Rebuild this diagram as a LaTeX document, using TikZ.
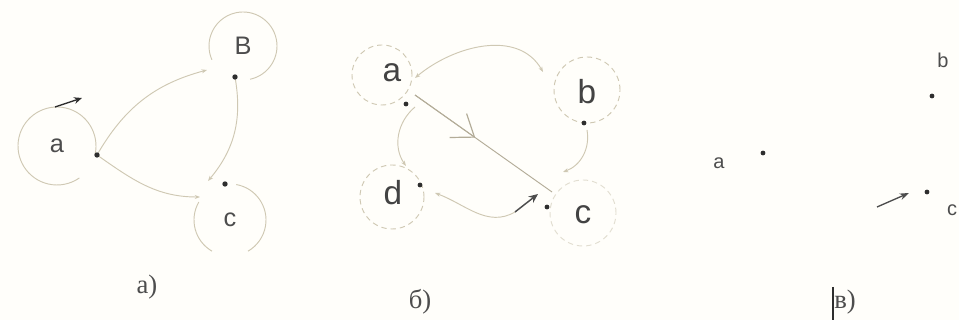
\documentclass[tikz,border=0pt]{standalone}
\usepackage{fontspec}
\setmainfont{Liberation Serif}
\newfontfamily\lblfont{Liberation Sans}
\usetikzlibrary{arrows.meta,calc}
\definecolor{Faded}{HTML}{CFC8B3}
\definecolor{FadedDark}{HTML}{B3AC98}
\definecolor{Ink}{HTML}{2E2E2E}
\definecolor{Paper}{HTML}{FFFEFA}

\begin{document}
\begin{tikzpicture}[x=0.75pt,y=0.75pt,line width=0.7pt,
  vlabel/.style={font=\lblfont\fontsize{19}{19}\selectfont,text=Ink!85,inner sep=0pt},
  biglabel/.style={font=\lblfont\fontsize{25}{25}\selectfont,text=Ink!90,inner sep=0pt},
  caption/.style={font=\fontsize{20}{20}\selectfont,text=Ink!85,inner sep=0pt},
  vdot/.style={fill=Ink},
  faint/.style={draw=Faded},
  tick/.style={-{Stealth[length=4pt,width=3pt]},draw=Faded},
  ring/.style={draw=Faded,dashed,dash pattern=on 4pt off 3pt,circle,inner sep=0pt}]
  \fill[Paper] (0,0) rectangle (959,320);
  \useasboundingbox (0,0) rectangle (959,320);

  % a)
  \node[vlabel] (aA) at (57,174) {a};
  \node[vlabel] (aB) at (243,274) {B};
  \node[vlabel] (aC) at (230,100) {c};
  \coordinate (aAdot) at (97,165);
  \coordinate (aBdot) at (235,243);
  \coordinate (aCdot) at (225,136);
  \coordinate (aBin) at (207,250);
  \coordinate (aCin) at (208,139);
  \coordinate (aCleft) at (200,123);
  \coordinate (aArrS) at (55,213);
  \coordinate (aArrE) at (82,222);
  \draw[faint] (aA.center) ++(-13:29.25pt) arc[start angle=-13,end angle=305,radius=29.25pt];
  \draw[faint] (aB.center) ++(-78:25.5pt) arc[start angle=-78,end angle=204,radius=25.5pt];
  \draw[faint] (aC.center) ++(80:27pt) arc[start angle=80,end angle=-60,radius=27pt];
  \draw[faint] (aC.center) ++(150:27pt) arc[start angle=150,end angle=240,radius=27pt];
  \draw[tick] (aAdot) to[out=60,in=195] (aBin);
  \draw[tick] (aBdot) to[out=-80,in=50] (aCin);
  \draw[tick] (aAdot) to[out=-35,in=180] (aCleft);
  \draw[-{Stealth[length=6pt,width=5pt]},Ink,line width=1pt] (aArrS) -- (aArrE);
  \foreach \d in {aAdot,aBdot,aCdot} \fill[vdot] (\d) circle[radius=2pt];
  \node[caption] (capA) at (147,33) {a)};

  % b)
  \node[ring,minimum size=45pt] (bAring) at (382,245) {};
  \node[ring,minimum size=49.5pt] (bBring) at (587,230) {};
  \node[ring,minimum size=48pt] (bDring) at (392,123) {};
  \node[ring,minimum size=49.5pt,draw=Faded!60] (bCring) at (583,107) {};
  \node[biglabel] (bA) at (392,247) {a};
  \node[biglabel] (bB) at (587,228) {b};
  \node[biglabel] (bD) at (393,127) {d};
  \node[biglabel] (bC) at (583,105) {c};
  \coordinate (bAdot) at (406,216);
  \coordinate (bBdot) at (584,197);
  \coordinate (bDdot) at (420,135);
  \coordinate (bCdot) at (547,113);
  \coordinate (bBtop) at (543,248);
  \coordinate (bAin) at (415,242);
  \coordinate (bLs) at (415,225);
  \coordinate (bLe) at (552,128);
  \coordinate (bAout) at (415,213);
  \coordinate (bDin) at (406,154);
  \coordinate (bBout) at (587,190);
  \coordinate (bCin) at (563,148);
  \coordinate (bDout) at (435,127);
  \coordinate (bCmid) at (515,108);
  \coordinate (bCend) at (538,126);
  \draw[{Stealth[length=4pt,width=3pt]}-{Stealth[length=4pt,width=3pt]},draw=Faded] (bBtop) to[out=120,in=40] (bAin);
  \draw[draw=FadedDark] (bLs) -- (bLe);
  \draw[-{Straight Barb[length=15pt,width=22pt,line width=0.9pt]},draw=FadedDark] (bLs) -- ($(bLs)!0.44!(bLe)$);
  \draw[tick] (bAout) to[out=220,in=125] (bDin);
  \draw[tick] (bBout) to[out=-80,in=20] (bCin);
  \draw[{Stealth[length=4pt,width=3pt]}-,draw=Faded] (bDout) to[out=-20,in=210] (bCmid);
  \draw[-{Stealth[length=7pt,width=6pt]},Ink!85,line width=1.1pt] (bCmid) -- (bCend);
  \foreach \d in {bAdot,bBdot,bDdot,bCdot} \fill[vdot] (\d) circle[radius=1.8pt];
  \node[caption] (capB) at (420,18) {б)};

  % c)
  \node[vlabel,font=\lblfont\fontsize{15}{15}\selectfont] (cA) at (719,157) {a};
  \node[vlabel,font=\lblfont\fontsize{15}{15}\selectfont] (cB) at (943,260) {b};
  \node[vlabel,font=\lblfont\fontsize{15}{15}\selectfont] (cC) at (952,110) {c};
  \coordinate (cAdot) at (763,167);
  \coordinate (cBdot) at (932,224);
  \coordinate (cCdot) at (927,128);
  \coordinate (cArrS) at (877,113);
  \coordinate (cArrE) at (909,127);
  \draw[-{Stealth[length=7pt,width=5pt]},Ink!85,line width=1pt] (cArrS) -- (cArrE);
  \foreach \d in {cAdot,cBdot,cCdot} \fill[vdot] (\d) circle[radius=1.8pt];
  \node[caption] (capC) at (845,18) {в)};
  \coordinate (cBarT) at (833,33);
  \coordinate (cBarB) at (833,0);
  \draw[Ink,line width=1.6pt] (cBarT) -- (cBarB);
\end{tikzpicture}
\end{document}
